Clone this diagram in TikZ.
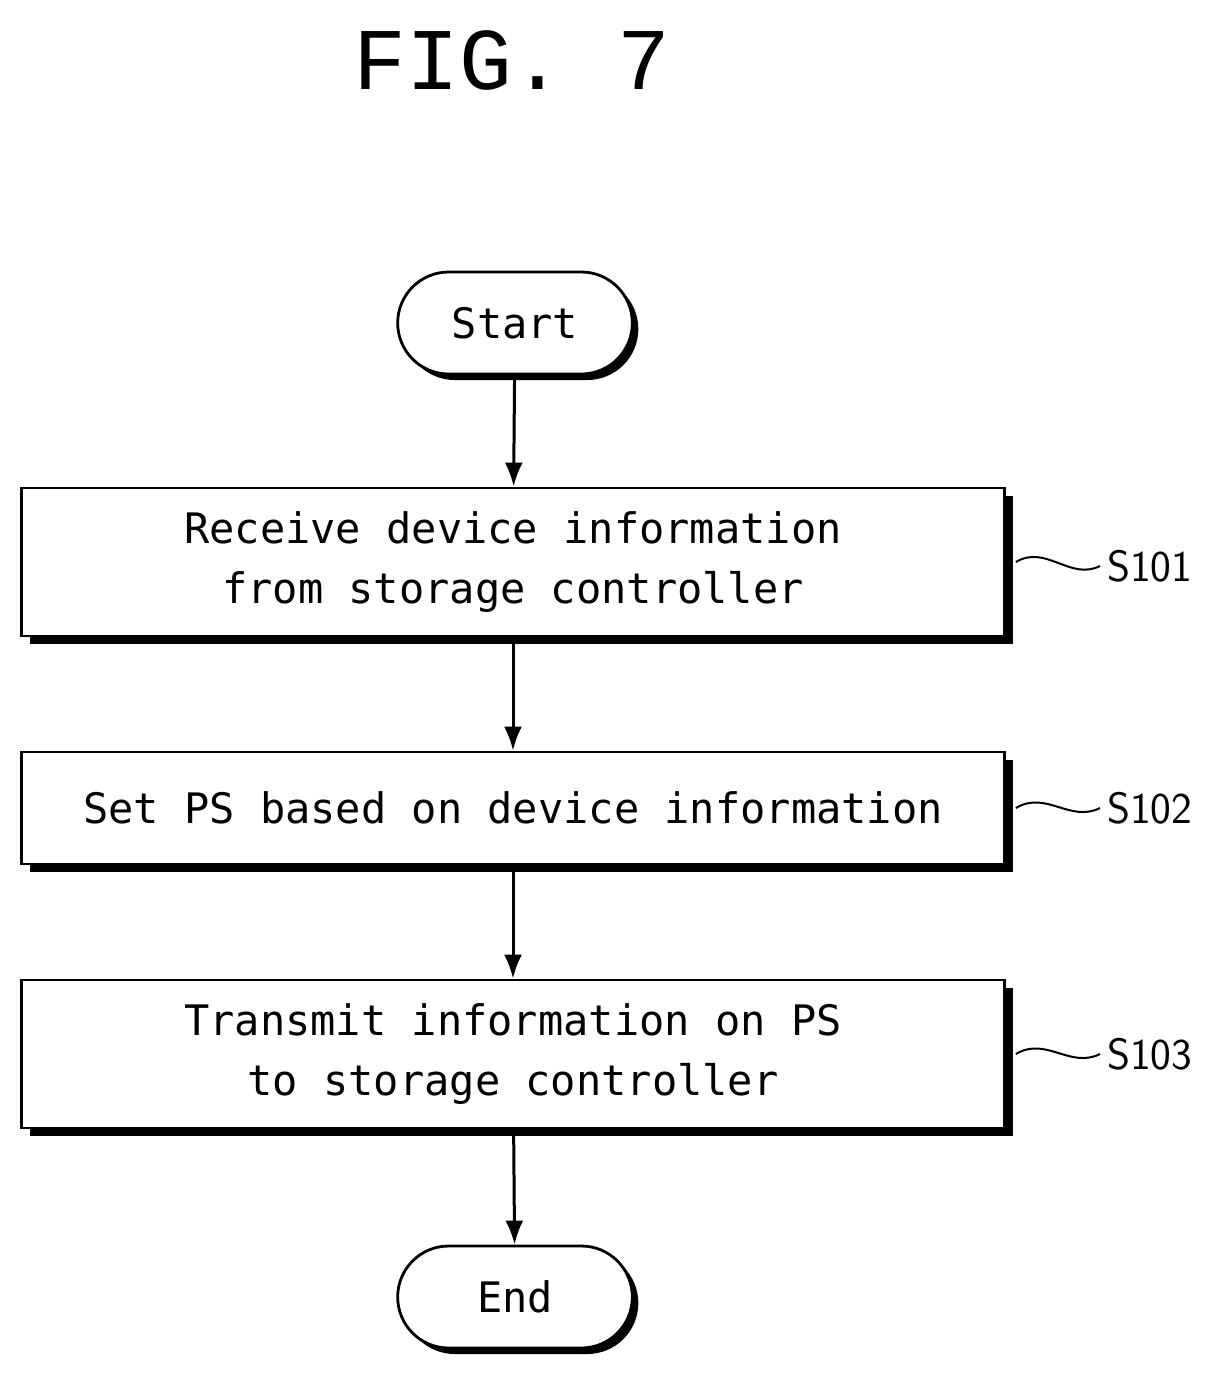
\documentclass[tikz,border=0pt]{standalone}
\usepackage{fontspec}
\setmonofont{DejaVu Sans Mono}
\newfontfamily\figfont{Liberation Mono}
\usetikzlibrary{positioning,shapes.misc,shadows,arrows.meta}
\begin{document}
\begin{tikzpicture}[x=0.5pt,y=-0.5pt,
    every node/.style={font=\ttfamily\fontsize{21}{30}\selectfont},
    stepbox/.style={draw,line width=1.4pt,fill=white,minimum width=491.5pt,align=center,
      drop shadow={shadow xshift=4pt,shadow yshift=-4pt,fill=black,opacity=1}},
    term/.style={draw,rounded rectangle,line width=1.4pt,fill=white,minimum width=124pt,minimum height=51pt,
      drop shadow={shadow xshift=3pt,shadow yshift=-3pt,fill=black,opacity=1}},
    flow/.style={-{Latex[length=12pt,width=9pt]},line width=1.5pt},
    tag/.style={anchor=west,font=\sffamily\fontsize{22}{26}\selectfont}]
  \useasboundingbox (0,0) rectangle (1226,1373);
  \node[font=\figfont\fontsize{44}{50}\selectfont] (fig) at (512,60) {FIG. 7};
  % flowchart
  \node[term] (start) at (515,323) {Start};
  \node[stepbox,minimum height=74pt] (s1) at (513,562) {Receive device information\\from storage controller};
  \node[stepbox,minimum height=56pt] (s2) at (513,808) {Set PS based on device information};
  \node[stepbox,minimum height=74pt] (s3) at (513,1054) {Transmit information on PS\\to storage controller};
  \node[term] (stop) at (515,1297) {End};
  \draw[flow] (start) -- (s1);
  \draw[flow] (s1) -- (s2);
  \draw[flow] (s2) -- (s3);
  \draw[flow] (s3) -- (stop);
  % step labels
  \foreach \s/\t/\y in {s1/S101/566,s2/S102/808,s3/S103/1054} {
    \node[tag] (l\t) at (1100,\y) {\t};
    \draw[line width=1pt] ([xshift=5pt]\s.east) .. controls +(30,-18) and +(-30,15) .. (l\t.west);
  }
\end{tikzpicture}
\end{document}
